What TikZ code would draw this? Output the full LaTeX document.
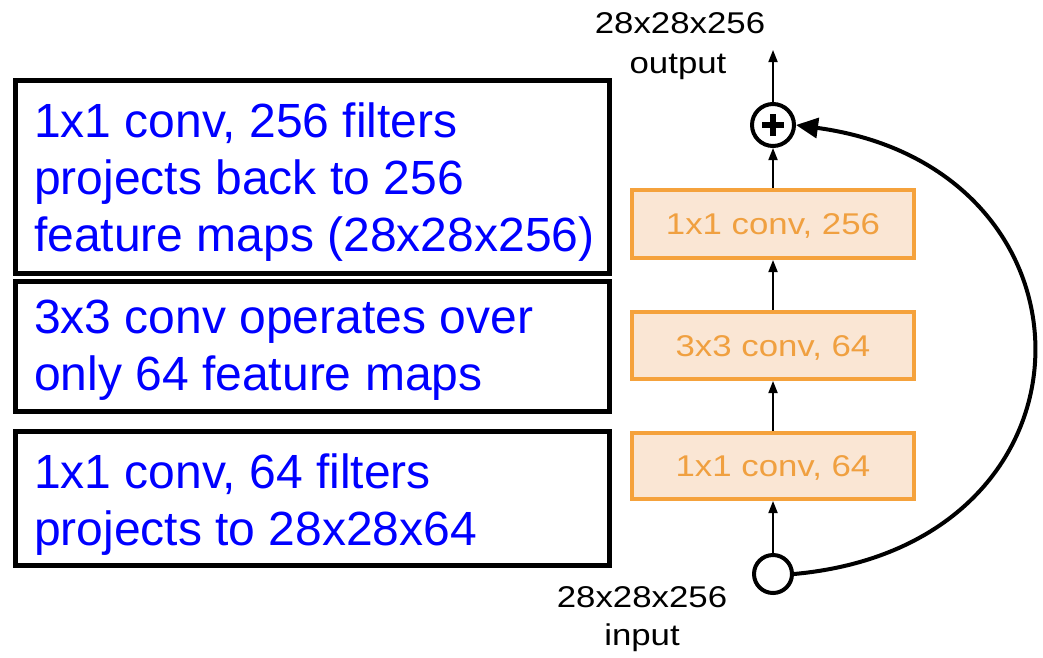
\documentclass[tikz,border=0pt]{standalone}
\usepackage{fontspec}
\setmainfont{Liberation Sans}
\newfontfamily\widesans[FakeStretch=1.16]{Liberation Sans}
\usetikzlibrary{arrows.meta}

\definecolor{noteblue}{RGB}{0,0,255}
\definecolor{convedge}{RGB}{245,162,60}
\definecolor{convfill}{RGB}{250,230,212}
\definecolor{convtext}{RGB}{240,160,64}

\tikzset{
  notebox/.style={draw=black, line width=5pt, inner sep=0pt},
  notetext/.style={anchor=north west, inner sep=0pt, align=left,
    text=noteblue, font=\fontsize{48}{57}\selectfont},
  convbox/.style={draw=convedge, fill=convfill, line width=4pt,
    minimum width=282pt, inner sep=0pt, text=convtext,
    font=\widesans\fontsize{30}{36}\selectfont,
    text height=21.5pt, text depth=0pt},
  ring/.style={circle, draw=black, line width=4pt, inner sep=0pt},
  flow/.style={line width=1.8pt, -{Triangle[length=12pt,width=9pt]}},
  skip/.style={line width=4pt, -{Triangle[length=22pt,width=20pt]}},
  dimlabel/.style={anchor=base, inner sep=0pt,
    font=\widesans\fontsize{30}{36}\selectfont},
}

\begin{document}
\begin{tikzpicture}[x=1pt, y=-1pt]
  \useasboundingbox (0,0) rectangle (1043,657);

  % explanatory boxes on the left
  \node[notebox, minimum width=593.5pt, minimum height=193pt] (n1) at (312.25,176.5) {};
  \node[notebox, minimum width=593.5pt, minimum height=130pt] (n2) at (312.25,346) {};
  \node[notebox, minimum width=593.5pt, minimum height=134pt] (n3) at (312.25,498) {};

  \node[notetext] (t1) at (34,97.1)
    {\strut 1x1 conv, 256 filters\\projects back to 256\\feature maps (28x28x256)};
  \node[notetext] (t2) at (34,293.1)
    {\strut 3x3 conv operates over\\only 64 feature maps};
  \node[notetext] (t3) at (34,448.1)
    {\strut 1x1 conv, 64 filters\\projects to 28x28x64};

  % bottleneck block
  \node[convbox, minimum height=68pt] (ca) at (773,224) {1x1 conv, 256};
  \node[convbox, minimum height=67pt] (cb) at (773,345.5) {3x3 conv, 64};
  \node[convbox, minimum height=66pt] (cc) at (773,466) {1x1 conv, 64};

  \node[ring, minimum size=42pt] (sum) at (773,125) {};
  \draw[line width=6pt] ([xshift=-11pt]sum.center) -- ([xshift=11pt]sum.center);
  \draw[line width=6pt] ([yshift=-11pt]sum.center) -- ([yshift=11pt]sum.center);

  \node[ring, minimum size=38pt] (src) at (773,574) {};
  \coordinate (out) at (773,50);

  % main path
  \draw[flow] (src.north) -- (cc.south);
  \draw[flow] (cc.north) -- (cb.south);
  \draw[flow] (cb.north) -- (ca.south);
  \draw[flow] (ca.north) -- (sum.south);
  \draw[flow] (sum.north) -- (out);

  % identity shortcut
  \draw[skip] (src.east) .. controls (1112,545) and (1112,168) .. (sum.east);

  % tensor sizes
  \node[dimlabel] (osz) at (680,33) {28x28x256};
  \node[dimlabel] (olb) at (678,73) {output};
  \node[dimlabel] (isz) at (642,607) {28x28x256};
  \node[dimlabel] (ilb) at (642,645) {input};
\end{tikzpicture}
\end{document}
